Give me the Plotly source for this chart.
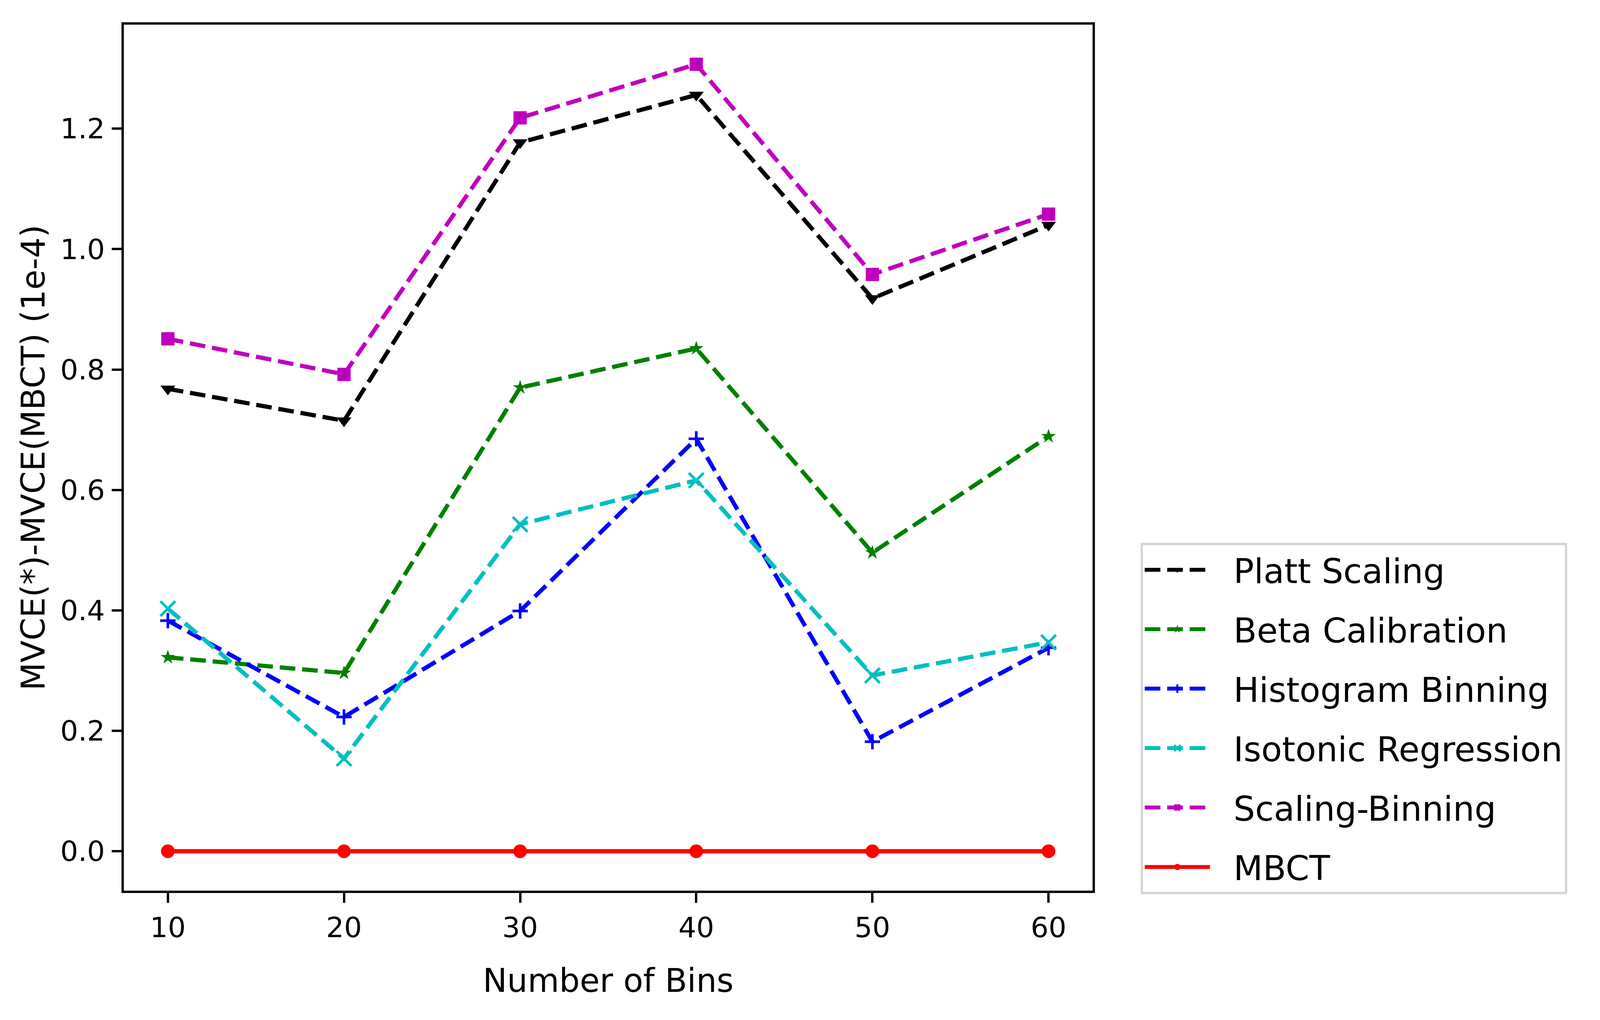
import plotly.graph_objects as go

# Datos
bins = [10, 20, 30, 40, 50, 60]
platt = [0.768, 0.715, 1.177, 1.256, 0.918, 1.040]
beta = [0.322, 0.296, 0.770, 0.835, 0.496, 0.689]
histogram = [0.383, 0.223, 0.399, 0.685, 0.182, 0.338]
isotonic = [0.403, 0.154, 0.543, 0.616, 0.292, 0.347]
scaling_binning = [0.851, 0.792, 1.218, 1.307, 0.958, 1.058]
mbct = [0.0, 0.0, 0.0, 0.0, 0.0, 0.0]

tick_vals = [0.0, 0.2, 0.4, 0.6, 0.8, 1.0, 1.2]
tick_text = ["0.0", "0.2", "0.4", "0.6", "0.8", "1.0", "1.2"]

FONT = "DejaVu Sans"
LW = 10.8
DASH = "40px,17.5px"
PAD = "\u00a0\u00a0"  # separa el texto del simbolo en la leyenda

series = [
    ("Platt Scaling", platt, "#000000", "triangle-down", 33, DASH),
    ("Beta Calibration", beta, "#008000", "star", 28, DASH),
    ("Histogram Binning", histogram, "#0000ff", "cross-thin", 28, DASH),
    ("Isotonic Regression", isotonic, "#00bfbf", "x-thin", 38, DASH),
    ("Scaling-Binning", scaling_binning, "#bf00bf", "square", 34, DASH),
    ("MBCT", mbct, "#ff0000", "circle", 35, "solid"),
]

fig = go.Figure()
for name, vals, color, symbol, size, dash in series:
    thin = symbol.endswith("-thin")
    fig.add_trace(go.Scatter(
        x=bins, y=vals, name=PAD + name, legendgroup=name, mode="lines+markers",
        line=dict(color=color, width=LW, dash=dash),
        marker=dict(symbol=symbol, size=size, color=color,
                    line=dict(color=color, width=6.7 if thin else 0)),
    ))

fig.update_layout(
    width=4067, height=2588,
    paper_bgcolor="white", plot_bgcolor="white",
    font=dict(family=FONT, color="black"),
    margin=dict(l=308.7, r=1277.5, t=55, b=317),
    legend=dict(
        x=1.0494, y=-0.004, xanchor="left", yanchor="bottom",
        font=dict(size=87, family=FONT),
        bordercolor="#d6d6d6", borderwidth=6, bgcolor="white",
        itemwidth=167, itemsizing="trace",
        tracegroupgap=36,
    ),
)
fig.update_xaxes(
    range=[7.5, 62.5], tickvals=bins, ticktext=[str(b) for b in bins],
    showline=True, linecolor="black", linewidth=5.8, mirror=True,
    ticks="outside", ticklen=25, tickwidth=5.8, tickcolor="black",
    tickfont=dict(size=72, family=FONT), showgrid=False, zeroline=False,
    ticklabelstandoff=2,
    title=dict(text="Number of Bins", font=dict(size=83, family=FONT), standoff=68),
)
fig.update_yaxes(
    range=[-0.0654, 1.3728], tickvals=tick_vals, ticktext=tick_text,
    showline=True, linecolor="black", linewidth=5.8, mirror=True,
    ticks="outside", ticklen=25, tickwidth=5.8, tickcolor="black",
    tickfont=dict(size=72, family=FONT), showgrid=False, zeroline=False,
    ticklabelstandoff=3,
    title=dict(text="MVCE(*)-MVCE(MBCT) (1e-4)", font=dict(size=83, family=FONT), standoff=14),
)

fig.write_html("out.html")
